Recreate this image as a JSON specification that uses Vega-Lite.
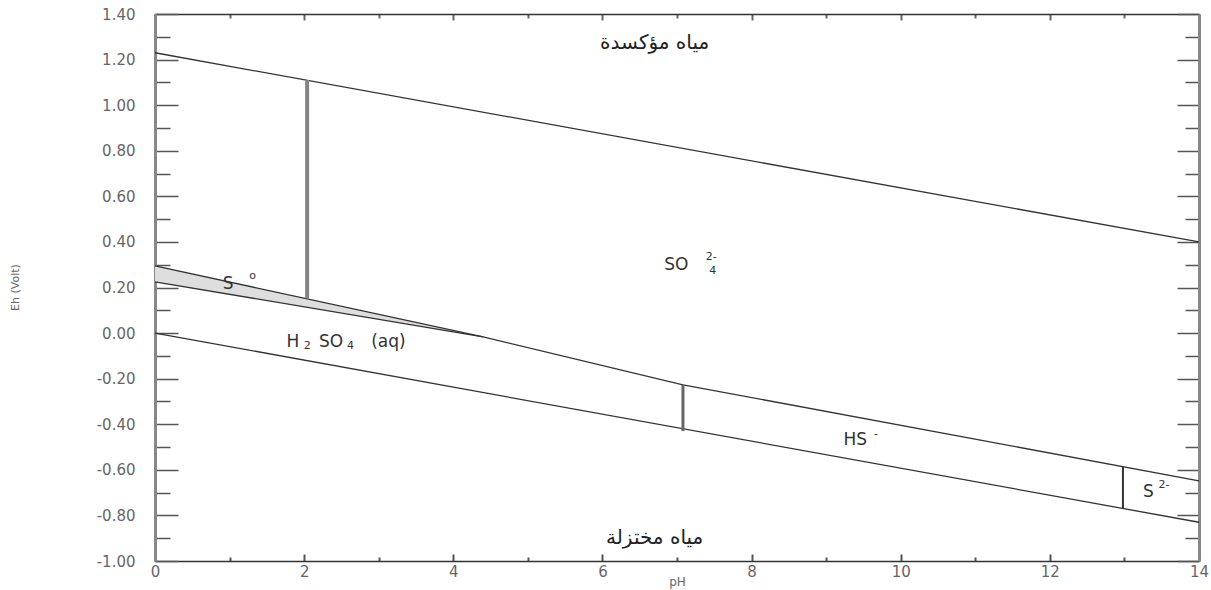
{
  "$schema": "https://vega.github.io/schema/vega-lite/v6.json",
  "width": 1044,
  "height": 547,
  "autosize": {"type": "none"},
  "padding": {"left": 155, "top": 14, "right": 12, "bottom": 29},
  "background": "white",
  "config": {"view": {"stroke": null}, "font": "DejaVu Sans"},
  "datasets": {
    "lines": [
      {"seg": "O2/H2O", "pH": 0, "Eh": 1.23},
      {"seg": "O2/H2O", "pH": 14, "Eh": 0.40},
      {"seg": "H2O/H2", "pH": 0, "Eh": 0.0},
      {"seg": "H2O/H2", "pH": 14, "Eh": -0.83},
      {"seg": "S0top", "pH": 0, "Eh": 0.295},
      {"seg": "S0top", "pH": 4.4, "Eh": -0.017},
      {"seg": "main", "pH": 0, "Eh": 0.225},
      {"seg": "main", "pH": 4.4, "Eh": -0.017},
      {"seg": "main", "pH": 7.08, "Eh": -0.227},
      {"seg": "main", "pH": 14, "Eh": -0.648}
    ],
    "s0area": [
      {"pH": 0, "top": 0.295, "bottom": 0.225},
      {"pH": 4.4, "top": -0.017, "bottom": -0.017}
    ],
    "v1": [{"pH": 2.04, "lo": 0.153, "hi": 1.11}],
    "v2": [{"pH": 7.08, "lo": -0.43, "hi": -0.227}],
    "v3": [{"pH": 12.98, "lo": -0.77, "hi": -0.587}],
    "arabic": [
      {"pH": 6.7, "Eh": 1.273, "text": "مياه مؤكسدة"},
      {"pH": 6.7, "Eh": -0.898, "text": "مياه مختزلة"}
    ],
    "species": [
      {"pH": 6.99, "Eh": 0.299, "text": "SO"},
      {"pH": 0.98, "Eh": 0.216, "text": "S"},
      {"pH": 1.85, "Eh": -0.04, "text": "H"},
      {"pH": 2.36, "Eh": -0.04, "text": "SO"},
      {"pH": 3.13, "Eh": -0.04, "text": "(aq)"},
      {"pH": 9.39, "Eh": -0.468, "text": "HS"},
      {"pH": 13.32, "Eh": -0.696, "text": "S"}
    ],
    "scripts": [
      {"pH": 7.46, "Eh": 0.334, "text": "2-"},
      {"pH": 7.48, "Eh": 0.273, "text": "4"},
      {"pH": 1.31, "Eh": 0.251, "text": "o"},
      {"pH": 2.04, "Eh": -0.058, "text": "2"},
      {"pH": 2.62, "Eh": -0.058, "text": "4"},
      {"pH": 9.67, "Eh": -0.442, "text": "-"},
      {"pH": 13.53, "Eh": -0.666, "text": "2-"}
    ]
  },
  "resolve": {"axis": {"x": "independent", "y": "independent"}},
  "layer": [
    {
      "data": {"name": "s0area"},
      "mark": {"type": "area", "color": "#dedede", "stroke": null},
      "encoding": {
        "x": {"field": "pH", "type": "quantitative", "scale": {"domain": [0, 14], "nice": false, "zero": false},
          "axis": {"orient": "top", "values": [0,1,2,3,4,5,6,7,8,9,10,11,12,13,14], "labels": false, "title": null, "grid": false,
            "domainColor": "#333", "domainWidth": 1.5, "tickColor": "#666", "tickWidth": 2,
            "tickSize": {"expr": "datum.value % 2 == 0 ? -6 : -4"}}},
        "y": {"field": "top", "type": "quantitative", "scale": {"domain": [-1, 1.4], "nice": false, "zero": false},
          "axis": {"orient": "right", "values": [-1,-0.9,-0.8,-0.7,-0.6,-0.5,-0.4,-0.3,-0.2,-0.1,0,0.1,0.2,0.3,0.4,0.5,0.6,0.7,0.8,0.9,1,1.1,1.2,1.3,1.4],
            "labels": false, "title": null, "grid": false,
            "domainColor": "#888", "domainWidth": 3, "tickColor": "#555", "tickWidth": 1.5,
            "tickSize": {"expr": "round(datum.value*10) % 2 == 0 ? -22 : -14"}}},
        "y2": {"field": "bottom"}
      }
    },
    {
      "data": {"name": "lines"},
      "mark": {"type": "line", "color": "#333", "strokeWidth": 1.3},
      "encoding": {
        "x": {"field": "pH", "type": "quantitative",
          "axis": {"orient": "bottom", "values": [0,1,2,3,4,5,6,7,8,9,10,11,12,13,14], "grid": false,
            "labelExpr": "datum.value % 2 == 0 ? '' + datum.value : ''",
            "labelColor": "#666", "labelFontSize": 15, "labelFont": "DejaVu Sans", "labelPadding": 10, "labelFlush": false,
            "domainColor": "#333", "domainWidth": 1.5, "tickColor": "#555", "tickWidth": 2,
            "tickSize": {"expr": "datum.value % 2 == 0 ? -7 : -4"},
            "title": "pH", "titleColor": "#666", "titleFontSize": 12, "titleFontWeight": "normal", "titleFont": "DejaVu Sans",
            "titleY": 20, "titleBaseline": "middle"}},
        "y": {"field": "Eh", "type": "quantitative",
          "axis": {"orient": "left", "values": [-1,-0.9,-0.8,-0.7,-0.6,-0.5,-0.4,-0.3,-0.2,-0.1,0,0.1,0.2,0.3,0.4,0.5,0.6,0.7,0.8,0.9,1,1.1,1.2,1.3,1.4], "grid": false,
            "labelExpr": "round(datum.value*10) % 2 == 0 ? replace(format(datum.value, '.2f'), '−', '-') : ''",
            "labelColor": "#666", "labelFontSize": 15, "labelFont": "DejaVu Sans", "labelPadding": 43, "labelFlush": false,
            "domainColor": "#888", "domainWidth": 3, "tickColor": "#555", "tickWidth": 1.5,
            "tickSize": {"expr": "round(datum.value*10) % 2 == 0 ? -23 : -15"},
            "title": "Eh (Volt)", "titleColor": "#666", "titleFontSize": 11, "titleFontWeight": "normal", "titleFont": "DejaVu Sans",
            "titleX": -140, "titleY": 273, "titleAngle": -90, "titleAlign": "center", "titleBaseline": "middle"}},
        "detail": {"field": "seg"}
      }
    },
    {
      "data": {"name": "v1"},
      "mark": {"type": "rule", "color": "#858585", "strokeWidth": 4},
      "encoding": {
        "x": {"field": "pH", "type": "quantitative", "axis": null},
        "y": {"field": "lo", "type": "quantitative", "axis": null},
        "y2": {"field": "hi"}
      }
    },
    {
      "data": {"name": "v2"},
      "mark": {"type": "rule", "color": "#666", "strokeWidth": 3},
      "encoding": {
        "x": {"field": "pH", "type": "quantitative", "axis": null},
        "y": {"field": "lo", "type": "quantitative", "axis": null},
        "y2": {"field": "hi"}
      }
    },
    {
      "data": {"name": "v3"},
      "mark": {"type": "rule", "color": "#333", "strokeWidth": 2},
      "encoding": {
        "x": {"field": "pH", "type": "quantitative", "axis": null},
        "y": {"field": "lo", "type": "quantitative", "axis": null},
        "y2": {"field": "hi"}
      }
    },
    {
      "data": {"name": "arabic"},
      "mark": {"type": "text", "font": "DejaVu Sans", "fontSize": 20, "color": "#222", "align": "center", "baseline": "middle"},
      "encoding": {
        "x": {"field": "pH", "type": "quantitative", "axis": null},
        "y": {"field": "Eh", "type": "quantitative", "axis": null},
        "text": {"field": "text"}
      }
    },
    {
      "data": {"name": "species"},
      "mark": {"type": "text", "font": "DejaVu Sans", "fontSize": 17, "color": "#333", "align": "center", "baseline": "middle"},
      "encoding": {
        "x": {"field": "pH", "type": "quantitative", "axis": null},
        "y": {"field": "Eh", "type": "quantitative", "axis": null},
        "text": {"field": "text"}
      }
    },
    {
      "data": {"name": "scripts"},
      "mark": {"type": "text", "font": "DejaVu Sans", "fontSize": 11, "color": "#333", "align": "center", "baseline": "middle"},
      "encoding": {
        "x": {"field": "pH", "type": "quantitative", "axis": null},
        "y": {"field": "Eh", "type": "quantitative", "axis": null},
        "text": {"field": "text"}
      }
    }
  ]
}
